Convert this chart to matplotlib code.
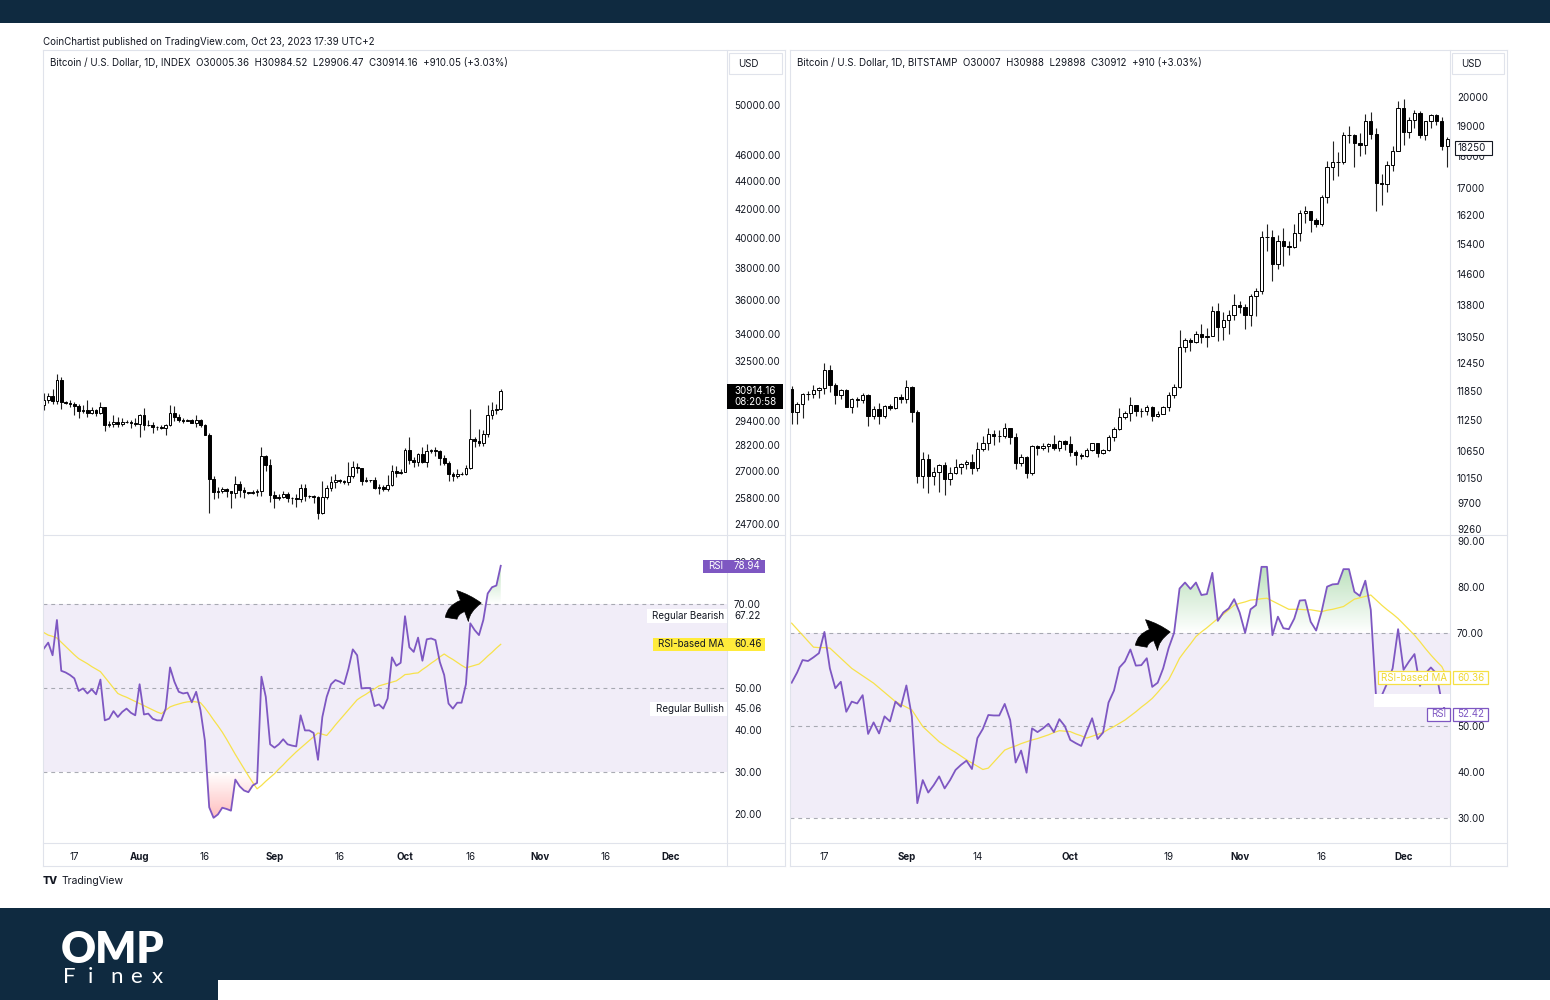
import matplotlib
matplotlib.use('Agg')
import matplotlib.pyplot as plt
import matplotlib.dates as mdates
from matplotlib.patches import Rectangle, FancyArrowPatch
from matplotlib.lines import Line2D
from matplotlib.path import Path
from matplotlib.transforms import IdentityTransform
import numpy as np
import pandas as pd

plt.rcParams['font.family'] = ['Inter', 'DejaVu Sans']

# ---------------- DATA ----------------
left_start = '2023-07-10'
left_open_first = 30160
left_close = [30410, 30620, 30390, 31470, 30330, 30290, 30250, 30150, 29860, 29910, 29800, 29910, 29800, 30090, 29180, 29230, 29350, 29220, 29320, 29350, 29280, 29230,
              29700, 29180, 29180, 29070, 29100, 29050, 29180, 29770, 29580, 29450, 29400, 29420, 29300, 29430, 29170, 28700, 26630, 26050, 26100, 26190, 26120, 26040, 26430, 26160, 26060, 26010, 26090, 26100, 27720, 27300, 25930,
              25800, 25870, 25970, 25820, 25790, 25750, 26240, 25900, 25900, 25840, 25160, 25840, 26230, 26530, 26600, 26570, 26530, 26760, 27210, 27130, 26570, 26580, 26580, 26260, 26300, 26220, 26370, 27030, 26910, 26970,
              27990, 27500, 27430, 27790, 27410, 27950, 27970, 27940, 27600, 27390, 26870, 26760, 26860, 26860, 27160, 28520, 28420, 28330, 28720, 29680, 29920, 30000, 30914]
left_high = [30790, 30800, 30980, 31820, 31630, 30390, 30440, 30330, 30240, 30190, 30410, 30060, 29990, 30340, 30100, 29360, 29690, 29570, 29540, 29410, 29450, 29530,
             29740, 30040, 29420, 29320, 29110, 29170, 29240, 30180, 30140, 29720, 29530, 29460, 29460, 29670, 29470, 29230, 28770, 26800, 26270, 26290, 26260, 26130, 26800, 26550, 26290, 26080, 26170, 26220, 28140, 27750, 27560,
             26130, 25980, 26110, 26080, 25870, 26000, 26420, 26430, 25940, 25960, 25880, 26540, 26390, 26800, 26850, 26650, 26620, 27410, 27480, 27380, 27160, 26740, 26620, 26730, 26420, 26380, 26810, 27300, 27240, 27090,
             28060, 28580, 27670, 27830, 28130, 28270, 28020, 28100, 27990, 27740, 27480, 26950, 27090, 26960, 27290, 30000, 28610, 28990, 28920, 30200, 30330, 30220, 30985]
left_low = [29950, 30280, 30230, 30250, 29960, 30250, 30070, 29690, 29510, 29770, 29570, 29740, 29630, 29750, 28870, 29060, 29100, 29090, 29130, 29260, 29050, 29110,
            28600, 28950, 29110, 28770, 28960, 28980, 28700, 29130, 29360, 29330, 29280, 29370, 29260, 29090, 29090, 28690, 25170, 25780, 25800, 26020, 25850, 25370, 25800, 25870, 25800, 25980, 25980, 25880, 25910, 27030, 25650,
            25370, 25730, 25800, 25630, 25570, 25400, 25630, 25660, 25800, 25610, 24920, 25130, 25760, 26130, 26230, 26480, 26420, 26390, 26690, 26900, 26380, 26490, 26520, 26200, 26000, 26110, 26120, 26340, 26720, 26890,
            26950, 27340, 27170, 27220, 27370, 27180, 27860, 27700, 27300, 27300, 26560, 26560, 26690, 26810, 26820, 27120, 28100, 28150, 28170, 28610, 29480, 29710, 29906]
left_rsi = [59.4, 60.8, 57.8, 66.2, 54.1, 53.7, 53.1, 52.3, 49.3, 49.9,
            48.7, 49.7, 48.5, 52.0, 42.3, 42.7, 44.5, 43.1, 44.3, 45.1,
            44.1, 43.5, 50.9, 43.7, 43.9, 42.7, 42.3, 42.3, 45.1, 54.9,
            51.5, 49.1, 48.7, 48.9, 46.6, 49.1, 44.7, 37.5, 21.6, 19.1,
            19.9, 21.5, 21.2, 20.8, 28.2, 26.6, 25.6, 25.2, 26.8, 27.4,
            52.7, 47.9, 36.6, 35.8, 36.6, 37.8, 36.6, 36.3, 36.1, 43.5,
            39.9, 39.9, 39.3, 32.9, 43.1, 47.9, 50.9, 51.9, 51.5, 50.9,
            54.6, 59.2, 57.8, 49.9, 50.0, 50.0, 45.7, 46.1, 45.1, 47.5,
            57.3, 55.3, 56.0, 67.1, 59.7, 58.6, 62.0, 56.5, 61.6, 61.8,
            61.4, 56.2, 53.1, 46.3, 45.1, 46.5, 46.5, 50.9, 65.4, 63.8,
            62.6, 66.2, 72.5, 74.0, 74.4, 79.1]
left_rsi_ma = [63.2, 62.6, 62.3, 61.9, 60.9, 59.9, 58.9, 57.9, 57.0, 56.4,
               55.8, 55.1, 54.5, 53.9, 52.6, 51.3, 50.0, 48.7, 48.2, 47.8,
               47.3, 46.8, 46.3, 45.8, 45.3, 44.8, 44.3, 43.9, 44.7, 45.5,
               45.9, 46.2, 46.5, 46.7, 46.8, 46.7, 46.5, 45.3, 43.9, 42.4,
               41.0, 39.5, 37.8, 36.0, 34.2, 32.5, 30.8, 29.1, 27.5, 26.0,
               26.8, 27.8, 28.7, 29.6, 30.7, 31.7, 32.8, 33.8, 34.8, 35.7,
               36.6, 37.5, 38.4, 39.3, 39.0, 38.7, 39.9, 41.2, 42.4, 43.6,
               44.8, 46.0, 47.2, 47.9, 48.5, 49.2, 49.8, 50.5, 50.8, 51.1,
               51.4, 51.7, 52.4, 53.2, 53.3, 53.5, 53.6, 54.4, 55.1, 55.9,
               56.6, 57.4, 58.1, 57.4, 56.8, 56.1, 55.4, 54.8, 55.1, 55.4,
               55.7, 56.6, 57.6, 58.5, 59.5, 60.4]

right_start = '2020-08-11'
right_open_first = 11880
right_close = [11410, 11580, 11780, 11770, 11860, 11900, 12290, 11970, 11750, 11860, 11520, 11680, 11650, 11760, 11330, 11470, 11320, 11530, 11480, 11710, 11670,
               11930, 11400, 10180, 10490, 10170, 10260, 10380, 10130, 10230, 10350, 10400, 10440, 10330, 10680, 10790, 10960, 10940, 10940, 11080, 10920, 10420, 10530, 10240, 10740, 10690, 10730, 10780, 10700, 10840, 10780,
               10620, 10570, 10550, 10670, 10790, 10600, 10670, 10920, 11060, 11300, 11380, 11550, 11430, 11430, 11500, 11330, 11370, 11510, 11750, 11920, 12820, 12980, 12930, 13120, 13030, 13070, 13650, 13270, 13450, 13560, 13800,
               13760, 13550, 14020, 14150, 15590, 15590, 14840, 15480, 15330, 15310, 15700, 16280, 16320, 16070, 15960, 16730, 17660, 17800, 17820, 18680, 18700, 18420, 18370, 19160, 18730, 17150, 17140, 17720, 18180, 19630,
               18800, 19210, 19440, 18700, 19160, 19380, 19170, 18320, 18550]
right_high = [11940, 11620, 11800, 11850, 11970, 11930, 12460, 12400, 12020, 11880, 11890, 11690, 11720, 11800, 11770, 11530, 11590, 11550, 11580, 11720, 11770,
              12080, 11950, 11450, 10620, 10580, 10350, 10400, 10440, 10350, 10490, 10410, 10480, 10580, 10810, 10940, 11090, 11040, 11040, 11180, 11090, 10990, 10580, 10540, 10760, 10760, 10800, 10800, 10950, 10860, 10850,
              10930, 10660, 10600, 10690, 10800, 10800, 10680, 10950, 11110, 11490, 11430, 11720, 11560, 11480, 11550, 11540, 11420, 11540, 11820, 11990, 13200, 13020, 13020, 13170, 13340, 13240, 13790, 13860, 13630, 13680, 14070,
              13900, 13820, 14070, 14240, 15760, 15960, 15770, 15650, 15840, 15460, 15950, 16340, 16480, 16320, 16130, 16800, 17850, 18480, 18140, 18800, 18980, 18720, 18760, 19400, 19480, 18920, 17450, 17860, 18340, 19860,
              19920, 19290, 19560, 19500, 19180, 19410, 19420, 19300, 18630]
right_low = [11160, 11160, 11290, 11650, 11690, 11690, 11770, 11830, 11570, 11680, 11500, 11380, 11520, 11600, 11130, 11260, 11170, 11290, 11440, 11460, 11590,
             11600, 11200, 10050, 9960, 9880, 10010, 9890, 9840, 10010, 10220, 10220, 10310, 10210, 10270, 10640, 10670, 10750, 10820, 10900, 10780, 10300, 10360, 10140, 10200, 10560, 10660, 10620, 10660, 10640, 10670,
             10550, 10380, 10500, 10530, 10640, 10530, 10580, 10650, 10830, 11040, 11270, 11220, 11330, 11300, 11340, 11220, 11310, 11360, 11420, 11690, 11900, 12690, 12720, 12900, 12910, 12800, 13070, 12950, 12980, 13120, 13440,
             13620, 13220, 13290, 13540, 14090, 15190, 14410, 14720, 14810, 15090, 15280, 15460, 15990, 15720, 15870, 15880, 16560, 17250, 17360, 17750, 18420, 17650, 18010, 18080, 18570, 16330, 16490, 16890, 17540, 18180,
             18350, 18600, 18920, 18600, 18520, 18920, 19040, 18210, 17650]
right_rsi = [59.3, 61.5, 64.2, 64.0, 64.8, 65.7, 70.3, 62.4, 58.1, 59.5,
             53.0, 55.2, 54.8, 56.6, 48.2, 50.7, 48.3, 52.0, 50.9, 55.2,
             54.1, 58.7, 52.0, 33.2, 38.2, 35.5, 37.1, 39.0, 36.4, 38.2,
             40.4, 41.5, 42.4, 40.6, 47.3, 49.3, 52.3, 52.2, 52.2, 54.7,
             51.2, 42.0, 44.6, 39.8, 49.4, 48.6, 49.4, 50.4, 48.6, 51.4,
             49.9, 46.9, 46.2, 45.6, 48.7, 51.6, 47.1, 48.5, 55.0, 57.6,
             62.6, 63.9, 66.5, 63.0, 63.1, 64.6, 58.4, 59.3, 62.4, 66.8,
             70.1, 79.7, 81.0, 79.6, 81.0, 78.3, 78.5, 83.1, 72.7, 74.5,
             75.4, 77.4, 74.5, 70.1, 75.2, 76.1, 84.4, 84.4, 69.6, 73.6,
             71.1, 70.9, 73.2, 77.1, 77.2, 72.5, 70.6, 74.7, 80.1, 80.6,
             80.7, 83.9, 83.9, 79.0, 78.1, 81.4, 75.1, 55.5, 56.5, 59.2,
             62.4, 70.9, 62.1, 63.9, 65.5, 58.6, 61.3, 62.6, 61.3, 55.0,
             52.4]
right_rsi_ma = [72.2, 70.9, 69.6, 68.3, 67.0, 66.9, 66.9, 66.8, 65.7, 64.6,
                63.5, 62.4, 61.6, 60.8, 60.0, 59.2, 58.2, 57.2, 56.2, 55.2,
                54.6, 54.0, 53.4, 51.6, 49.8, 48.7, 47.6, 46.5, 45.7, 44.9,
                44.2, 43.4, 42.6, 41.9, 41.2, 40.5, 40.8, 42.1, 43.4, 44.7,
                45.2, 45.6, 46.1, 46.5, 46.9, 47.2, 47.6, 48.0, 48.5, 48.9,
                48.8, 48.7, 48.2, 47.8, 47.3, 47.7, 48.1, 48.5, 49.2, 49.8,
                50.5, 51.2, 52.1, 53.0, 54.0, 54.9, 55.9, 57.2, 58.6, 59.9,
                62.2, 64.6, 66.2, 67.7, 69.3, 70.3, 71.2, 72.2, 73.2, 74.1,
                75.1, 76.1, 76.5, 76.8, 77.2, 77.3, 77.5, 77.6, 77.0, 76.4,
                75.8, 75.2, 75.2, 75.2, 75.1, 75.1, 74.9, 74.7, 75.0, 75.2,
                75.5, 75.8, 76.6, 77.4, 77.7, 78.0, 78.3, 77.2, 76.1, 75.1,
                74.2, 73.2, 72.0, 70.8, 69.6, 68.2, 66.7, 65.3, 64.0, 62.8,
                60.4]

left_price_ticks = [50000, 46000, 44000, 42000, 40000, 38000, 36000, 34000, 32500, 29400, 28200, 27000, 25800, 24700]
right_price_ticks = [20000, 19000, 18000, 17000, 16200, 15400, 14600, 13800, 13050, 12450, 11850, 11250, 10650, 10150, 9700, 9260]
left_rsi_ticks = [80, 70, 60, 50, 40, 30, 20]
right_rsi_ticks = [90, 80, 70, 60, 50, 40, 30]
left_time_ticks = ['2023-07-17', '2023-08-01', '2023-08-16', '2023-09-01', '2023-09-16', '2023-10-01', '2023-10-16', '2023-11-01', '2023-11-16', '2023-12-01']
left_time_labels = ['17', 'Aug', '16', 'Sep', '16', 'Oct', '16', 'Nov', '16', 'Dec']
right_time_ticks = ['2020-08-17', '2020-09-01', '2020-09-14', '2020-10-01', '2020-10-19', '2020-11-01', '2020-11-16', '2020-12-01']
right_time_labels = ['17', 'Sep', '14', 'Oct', '19', 'Nov', '16', 'Dec']
months = {'Aug', 'Sep', 'Oct', 'Nov', 'Dec'}

left_title = 'Bitcoin / U.S. Dollar, 1D, INDEX  O30005.36  H30984.52  L29906.47  C30914.16  +910.05 (+3.03%)'
right_title = 'Bitcoin / U.S. Dollar, 1D, BITSTAMP  O30007  H30988  L29898  C30912  +910 (+3.03%)'
header = 'CoinChartist published on TradingView.com, Oct 23, 2023 17:39 UTC+2'
left_last_price = 30914.16
left_countdown = '08:20:58'
right_last_price = 18250
left_rsi_last, left_ma_last, left_bear, left_bull = 78.94, 60.46, 67.22, 45.06
right_rsi_last, right_ma_last = 52.42, 60.36

# ---------------- FIGURE ----------------
W, H = 1550, 1000
fig = plt.figure(figsize=(15.5, 10), dpi=100)
fig.patch.set_facecolor('white')
INK = '#131722'
GRID = '#e0e3eb'
PURPLE = '#7e57c2'
YELLOW = '#f7e24b'


def fx(x):
    return x / W


def fy(y):
    return 1 - y / H


def add_ax(x0, y0, x1, y1):
    a = fig.add_axes([fx(x0), fy(y1), (x1 - x0) / W, (y1 - y0) / H])
    for s in a.spines.values():
        s.set_visible(False)
    a.set_facecolor('none')
    return a


def box(x0, y0, x1, y1, fc, ec=None, lw=0.8, z=5):
    r = Rectangle((fx(x0), fy(y1)), (x1 - x0) / W, (y1 - y0) / H, transform=fig.transFigure,
                  facecolor=fc, edgecolor=ec if ec else 'none', lw=lw if ec else 0, zorder=z)
    fig.add_artist(r)


def txt(x, y, s, size=7, color=INK, ha='left', va='center', weight='normal', z=6, **kw):
    fig.text(fx(x), fy(y), s, fontsize=size, color=color, ha=ha, va=va, fontweight=weight, zorder=z, **kw)


def hline(x0, x1, y, color=GRID, lw=0.8):
    fig.add_artist(Line2D([fx(x0), fx(x1)], [fy(y), fy(y)], transform=fig.transFigure, color=color, lw=lw, zorder=4))


def vline(x, y0, y1, color=GRID, lw=0.8):
    fig.add_artist(Line2D([fx(x), fx(x)], [fy(y0), fy(y1)], transform=fig.transFigure, color=color, lw=lw, zorder=4))


def pix_y(ax, val):
    return H - ax.transData.transform((ax.get_xlim()[0], val))[1]


def curved_arrow(x0, y0, x1, y1):
    a = FancyArrowPatch((x0, H - y0), (x1, H - y1), transform=IdentityTransform(),
                        arrowstyle='simple,head_length=0.8,head_width=1.4,tail_width=0.5',
                        connectionstyle='angle3,angleA=90,angleB=0', mutation_scale=17,
                        facecolor='black', edgecolor='black', lw=0.5, zorder=7)
    fig.add_artist(a)


# top and bottom branding bands
box(0, 0, W, 23, '#0f2a40', z=1)
box(0, 908, W, 1000, '#0f2a40', z=1)
box(218, 980, W, 1000, 'white', z=2)
txt(61, 950, 'OMP', size=31, color='white', weight='heavy', family=['Lato', 'DejaVu Sans'], z=3)
for xx, ch in zip([63, 88, 110, 130, 152], 'Finex'):
    txt(xx, 977, ch, size=16, color='white', weight='normal', family=['Lato', 'DejaVu Sans'], z=3)

txt(43, 42, header, size=7)
txt(43, 881, 'TV', size=7.5, weight='heavy')
txt(62, 881, 'TradingView', size=7.5)


def candles(ax, dates, o, h, l, c, width):
    x = mdates.date2num(dates)
    up = c >= o
    ax.vlines(x, l, h, color='#222222', lw=0.8, zorder=2)
    bottoms = np.minimum(o, c)
    heights = np.maximum(np.abs(c - o), 1e-6)
    ax.bar(x[up], heights[up], bottom=bottoms[up], width=width, color='white', edgecolor='black', linewidth=0.7, zorder=3)
    ax.bar(x[~up], heights[~up], bottom=bottoms[~up], width=width, color='black', edgecolor='black', linewidth=0.7, zorder=3)


def gradient_fill(ax, x, y, level, above, rgb, amax):
    y = np.asarray(y)
    where = y > level if above else y < level
    if not where.any():
        return
    pc = ax.fill_between(x, y, level, where=where, interpolate=True, facecolor='none', edgecolor='none')
    comp = Path.make_compound_path(*pc.get_paths())
    grad = np.zeros((200, 1, 4))
    grad[..., 0], grad[..., 1], grad[..., 2] = rgb
    if above:
        grad[..., 3] = np.linspace(amax, 0.0, 200)[:, None]
        ext = [x[0], x[-1], level, y.max()]
    else:
        grad[..., 3] = np.linspace(0.0, amax, 200)[:, None]
        ext = [x[0], x[-1], y.min(), level]
    im = ax.imshow(grad, extent=ext, aspect='auto', origin='upper', zorder=1.5, interpolation='bilinear')
    im.set_clip_path(comp, ax.transData)


def build(xpx0, xpx1, start, o_first, close, high, low, rsi, ma, xlim, plim, rlim,
          pticks, pfmt, rticks, tticks, tlabels, width):
    axP = add_ax(xpx0, 50, xpx1, 535)
    axR = add_ax(xpx0, 535, xpx1, 843)
    c = np.array(close, float)
    o = np.r_[o_first, c[:-1]]
    h = np.array(high, float)
    l = np.array(low, float)
    dates = pd.date_range(start, periods=len(c), freq='D')
    x = mdates.date2num(dates)
    candles(axP, dates, o, h, l, c, width)
    axP.set_yscale('log')
    axP.set_ylim(*plim)
    axP.set_xlim(*xlim)
    axP.yaxis.tick_right()
    axP.set_yticks(pticks)
    axP.set_yticklabels([pfmt(v) for v in pticks])
    axP.yaxis.set_minor_locator(matplotlib.ticker.NullLocator())
    axP.tick_params(axis='y', length=0, pad=5, labelsize=7, labelcolor=INK)
    axP.set_xticks([])

    r = np.array(rsi)
    axR.axhspan(30, 70, facecolor=PURPLE, alpha=0.1, lw=0, zorder=0.5)
    for lv in (70, 50, 30):
        axR.axhline(lv, color='#9598a1', lw=0.8, ls=(0, (3.5, 3.5)), alpha=0.8, zorder=1)
    gradient_fill(axR, x, r, 70, True, (0.30, 0.69, 0.31), 0.38)
    gradient_fill(axR, x, r, 30, False, (1.0, 0.32, 0.32), 0.38)
    axR.plot(x, ma, color=YELLOW, lw=0.9, zorder=2)
    axR.plot(x, r, color=PURPLE, lw=1.3, zorder=3)
    axR.set_xlim(*xlim)
    axR.set_ylim(*rlim)
    axR.yaxis.tick_right()
    axR.set_yticks(rticks)
    axR.set_yticklabels(['%.2f' % v for v in rticks])
    axR.tick_params(axis='y', length=0, pad=5, labelsize=7, labelcolor=INK)
    axR.set_xticks(mdates.date2num(pd.to_datetime(tticks)))
    axR.set_xticklabels(tlabels)
    axR.tick_params(axis='x', length=0, pad=6.5, labelsize=7, labelcolor=INK)
    for t in axR.get_xticklabels():
        if t.get_text() in months:
            t.set_fontweight('bold')
    return axP, axR


L0 = mdates.date2num(pd.Timestamp('2023-07-10')) - 0.2
axLP, axLR = build(43, 727, left_start, left_open_first, left_close, left_high, left_low,
                   left_rsi, left_rsi_ma, (L0, L0 + 157.2), (24250, 54850), (13.1, 86.43),
                   left_price_ticks, lambda v: '%.2f' % v, left_rsi_ticks,
                   left_time_ticks, left_time_labels, 0.62)
R0 = mdates.date2num(pd.Timestamp('2020-08-11')) - 0.3
axRP, axRR = build(790, 1450, right_start, right_open_first, right_close, right_high, right_low,
                   right_rsi, right_rsi_ma, (R0, R0 + 120.8), (9162, 21750), (24.57, 91.3),
                   right_price_ticks, lambda v: '%d' % v, right_rsi_ticks,
                   right_time_ticks, right_time_labels, 0.62)

# frames
for (a, b, c_) in [(43, 727, 785), (790, 1450, 1507)]:
    hline(a, c_, 50)
    hline(a, c_, 535)
    hline(a, c_, 843)
    hline(a, c_, 866)
    vline(a, 50, 866)
    vline(b, 50, 866)
    vline(c_, 50, 866)

# titles and currency boxes
txt(50, 63, left_title, size=7)
txt(797, 63, right_title, size=7)
box(729, 53, 782, 74, 'white', ec=GRID)
txt(738, 64, 'USD', size=7)
box(1452, 53, 1504, 74, 'white', ec=GRID)
txt(1461, 64, 'USD', size=7)

# last price labels
yl = pix_y(axLP, left_last_price)
box(727, yl - 7, 783, yl + 18, 'black')
txt(734, yl, '%.2f' % left_last_price, size=7, color='white')
txt(734, yl + 11, left_countdown, size=7, color='white')
yr = pix_y(axRP, right_last_price)
box(1455, yr - 7, 1492, yr + 7, 'white', ec='#131722', lw=0.8)
txt(1458, yr, '%d' % right_last_price, size=7)

# left RSI labels
y = pix_y(axLR, left_rsi_last)
box(703, y - 6.5, 729, y + 6.5, PURPLE)
box(729, y - 6.5, 765, y + 6.5, PURPLE)
txt(716, y, 'RSI', size=7, color='white', ha='center')
txt(734, y, '%.2f' % left_rsi_last, size=7, color='white')
y = pix_y(axLR, left_bear)
box(647, y - 7, 727, y + 7, 'white')
txt(724, y, 'Regular Bearish', size=7, ha='right')
txt(734, y, '%.2f' % left_bear, size=7)
y = pix_y(axLR, left_ma_last)
box(653, y - 6.5, 729, y + 6.5, '#ffeb3b')
box(729, y - 6.5, 765, y + 6.5, '#ffeb3b')
txt(691, y, 'RSI-based MA', size=7, ha='center')
txt(734, y, '%.2f' % left_ma_last, size=7)
y = pix_y(axLR, left_bull)
box(650, y - 7, 727, y + 7, 'white')
txt(724, y, 'Regular Bullish', size=7, ha='right')
txt(734, y, '%.2f' % left_bull, size=7)

# right RSI labels
y = pix_y(axRR, right_ma_last)
box(1378, y - 6.5, 1450, y + 6.5, 'white', ec='#f5e045', lw=0.9)
box(1453, y - 6.5, 1488, y + 6.5, 'white', ec='#f5e045', lw=0.9)
txt(1414, y, 'RSI-based MA', size=7, color='#f0d830', ha='center')
txt(1457, y, '%.2f' % right_ma_last, size=7, color='#f0d830')
box(1374, y + 16, 1450, y + 29, 'white')
y = pix_y(axRR, right_rsi_last)
box(1427, y - 6.5, 1450, y + 6.5, 'white', ec=PURPLE, lw=0.9)
box(1453, y - 6.5, 1488, y + 6.5, 'white', ec=PURPLE, lw=0.9)
txt(1438.5, y, 'RSI', size=7, color=PURPLE, ha='center')
txt(1457, y, '%.2f' % right_rsi_last, size=7, color=PURPLE)

# curved black arrows
curved_arrow(451, 621, 484, 603)
curved_arrow(1141, 649, 1173, 632)

fig.savefig('out.png', dpi=100)
